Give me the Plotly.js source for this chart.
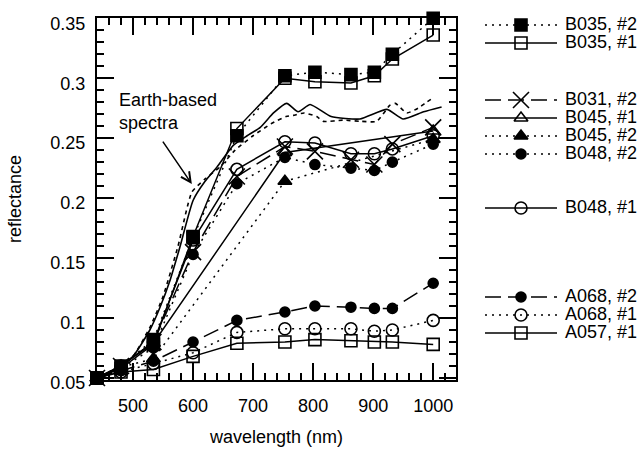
<!DOCTYPE html>
<html>
<head>
<meta charset="utf-8">
<script src="https://cdn.plot.ly/plotly-3.0.1.min.js"></script>
<style>
  html, body { margin: 0; padding: 0; background: #ffffff; }
  #chart { width: 644px; height: 451px; }
</style>
</head>
<body>
<div id="chart"></div>
<script>
// Filter wavelengths (nm) and reflectance per rock spectrum
const wavelength = [440, 480, 534, 600, 673, 753, 803, 863, 902, 932, 1000];
const wavelengthB045 = [440, 480, 534, 753, 1000];

const b035_2 = [0.050, 0.060, 0.082, 0.167, 0.252, 0.302, 0.305, 0.303, 0.305, 0.320, 0.350];
const b035_1 = [0.050, 0.058, 0.078, 0.168, 0.258, 0.300, 0.297, 0.296, 0.302, 0.316, 0.336];
const b031_2 = [0.050, 0.060, 0.080, 0.155, 0.218, 0.243, 0.239, 0.232, 0.228, 0.245, 0.259];
const b045_1 = [0.050, 0.060, 0.079, 0.238, 0.256];
const b045_2 = [0.050, 0.059, 0.066, 0.214, 0.249];
const b048_2 = [0.050, 0.058, 0.075, 0.153, 0.212, 0.234, 0.228, 0.225, 0.223, 0.230, 0.245];
const b048_1 = [0.050, 0.060, 0.080, 0.165, 0.224, 0.247, 0.246, 0.237, 0.237, 0.241, 0.252];
const a068_2 = [0.050, 0.056, 0.064, 0.080, 0.098, 0.105, 0.110, 0.109, 0.108, 0.108, 0.129];
const a068_1 = [0.050, 0.055, 0.062, 0.071, 0.088, 0.091, 0.091, 0.091, 0.089, 0.090, 0.098];
const a057_1 = [0.050, 0.055, 0.057, 0.068, 0.079, 0.080, 0.082, 0.081, 0.080, 0.080, 0.078];

// Telescopic (Earth-based) spectra
const earthSolidWl = [445, 470, 500, 528, 545, 562, 578, 600, 620, 640, 667, 690, 712, 734, 756, 775, 795, 830, 878, 923, 950, 984, 1014];
const earthSolidR  = [0.050, 0.057, 0.068, 0.090, 0.109, 0.132, 0.159, 0.198, 0.214, 0.226, 0.244, 0.252, 0.259, 0.271, 0.279, 0.272, 0.278, 0.268, 0.266, 0.274, 0.266, 0.272, 0.276];
const earthDashWl = [445, 470, 500, 528, 550, 575, 598, 620, 645, 670, 700, 730, 755, 767, 785, 806, 817, 850, 880, 906, 928, 937, 956, 975, 989, 998];
const earthDashR  = [0.050, 0.056, 0.068, 0.092, 0.118, 0.160, 0.205, 0.216, 0.226, 0.240, 0.252, 0.262, 0.268, 0.269, 0.271, 0.268, 0.264, 0.265, 0.264, 0.264, 0.2775, 0.279, 0.271, 0.275, 0.280, 0.283];

const seriesNames = ['B035, #2', 'B035, #1', 'B031, #2', 'B045, #1', 'B045, #2', 'B048, #2', 'B048, #1', 'A068, #2', 'A068, #1', 'A057, #1'];

const FONT = '"Liberation Sans", Arial, Helvetica, sans-serif';
const DOT = '2px,5px';
const DASH = '16px,7px';

// Style of each spectrum
const series = [
  { name: seriesNames[1], x: wavelength,     y: b035_1, symbol: 'square-open',      size: 12, dash: 'solid' },
  { name: seriesNames[0], x: wavelength,     y: b035_2, symbol: 'square',           size: 12, dash: DOT },
  { name: seriesNames[2], x: wavelength,     y: b031_2, symbol: 'x-thin-open',      size: 16, dash: DASH },
  { name: seriesNames[3], x: wavelengthB045, y: b045_1, symbol: 'triangle-up-open', size: 12, dash: 'solid' },
  { name: seriesNames[4], x: wavelengthB045, y: b045_2, symbol: 'triangle-up',      size: 12, dash: DOT },
  { name: seriesNames[5], x: wavelength,     y: b048_2, symbol: 'circle',           size: 10, dash: DOT },
  { name: seriesNames[6], x: wavelength,     y: b048_1, symbol: 'circle-open',      size: 12, dash: 'solid' },
  { name: seriesNames[7], x: wavelength,     y: a068_2, symbol: 'circle',           size: 10, dash: DASH },
  { name: seriesNames[8], x: wavelength,     y: a068_1, symbol: 'circle-open',      size: 12, dash: DOT },
  { name: seriesNames[9], x: wavelength,     y: a057_1, symbol: 'square-open',      size: 12, dash: 'solid' }
];

const traces = [];

traces.push({
  type: 'scatter', mode: 'lines', x: earthSolidWl, y: earthSolidR,
  line: { color: 'black', width: 1.6, shape: 'spline', smoothing: 0.5 },
  showlegend: false, hoverinfo: 'skip', xaxis: 'x', yaxis: 'y'
});
traces.push({
  type: 'scatter', mode: 'lines', x: earthDashWl, y: earthDashR,
  line: { color: 'black', width: 1.6, dash: '4px,4px', shape: 'spline', smoothing: 0.5 },
  showlegend: false, hoverinfo: 'skip', xaxis: 'x', yaxis: 'y'
});

series.forEach(s => {
  traces.push({
    type: 'scatter', mode: 'lines+markers', name: s.name, x: s.x, y: s.y,
    line: { color: 'black', width: 1.5, dash: s.dash },
    marker: { symbol: s.symbol, size: s.size, color: 'black', line: { color: 'black', width: 1.6 } },
    cliponaxis: false, showlegend: false, xaxis: 'x', yaxis: 'y'
  });
});

// Key drawn beside the plot on its own pixel-scaled axes
const keyOrder = [0, 1, 2, 3, 4, 5, 6, 7, 8, 9];
const keyRows = [25, 43, 100, 118, 136, 154, 208, 297, 315, 333];
const keyLineX = [485, 521, 557];
const keyTextX = 565;
const byName = {};
series.forEach(s => { byName[s.name] = s; });

keyOrder.forEach((idx, i) => {
  const s = byName[seriesNames[idx]];
  const r = keyRows[i];
  traces.push({
    type: 'scatter', mode: 'lines+markers', x: keyLineX, y: [r, r, r],
    line: { color: 'black', width: 1.5, dash: s.dash },
    marker: { symbol: s.symbol, size: s.size, color: 'black', opacity: [0, 1, 0],
              line: { color: 'black', width: 1.6 } },
    cliponaxis: false, showlegend: false, hoverinfo: 'skip', xaxis: 'x2', yaxis: 'y2'
  });
});
traces.push({
  type: 'scatter', mode: 'text',
  x: keyRows.map(() => keyTextX), y: keyRows,
  text: keyOrder.map(i => seriesNames[i]),
  textposition: 'middle right',
  textfont: { family: FONT, size: 18, color: 'black' },
  cliponaxis: false, showlegend: false, hoverinfo: 'skip', xaxis: 'x2', yaxis: 'y2'
});

const ML = 97, MR = 0, MT = 18, MB = 71, W = 644, H = 451;
const plotRight = 456;
const paperW = W - ML - MR;
const xDomainEnd = (plotRight - ML) / paperW;

const axisCommon = {
  showline: true, linewidth: 2, linecolor: 'black', mirror: 'ticks',
  ticks: 'inside', ticklen: 17, tickwidth: 1.5, tickcolor: 'black',
  showgrid: false, zeroline: false,
  tickfont: { family: FONT, size: 18, color: 'black' }
};

const layout = {
  width: W, height: H,
  margin: { l: ML, r: MR, t: MT, b: MB, pad: 0 },
  paper_bgcolor: 'white', plot_bgcolor: 'white',
  font: { family: FONT, size: 18, color: 'black' },
  showlegend: false,
  xaxis: Object.assign({}, axisCommon, {
    domain: [0, xDomainEnd], range: [440, 1038],
    tick0: 0, dtick: 100, ticklabelstandoff: 8,
    minor: { dtick: 20, tick0: 0, ticks: 'inside', ticklen: 7, tickwidth: 1.5, tickcolor: 'black', showgrid: false },
    title: { text: 'wavelength (nm)', font: { family: FONT, size: 18, color: 'black' }, standoff: 16 },
    anchor: 'y'
  }),
  yaxis: Object.assign({}, axisCommon, {
    domain: [0, 1], range: [0.0483, 0.3502],
    tick0: 0, dtick: 0.05, ticklabelstandoff: 6, ticklabelshift: 5,
    minor: { dtick: 0.01, tick0: 0, ticks: 'inside', ticklen: 7, tickwidth: 1.5, tickcolor: 'black', showgrid: false },
    title: { text: 'reflectance', font: { family: FONT, size: 18, color: 'black' }, standoff: 24 },
    anchor: 'x'
  }),
  xaxis2: { domain: [xDomainEnd, 1], range: [plotRight, W], visible: false, anchor: 'y2', fixedrange: true },
  yaxis2: { domain: [0, 1], range: [H - MB, MT], visible: false, anchor: 'x2', fixedrange: true },
  annotations: [
    {
      xref: 'x', yref: 'y', x: 473, y: 0.2725,
      text: 'Earth-based<br>spectra', showarrow: false,
      xanchor: 'left', yanchor: 'middle', align: 'left',
      font: { family: FONT, size: 18, color: 'black' }
    },
    {
      xref: 'x', yref: 'y', x: 598, y: 0.2117,
      text: '', showarrow: true, axref: 'pixel', ayref: 'pixel', ax: -30, ay: -44,
      arrowhead: 5, arrowsize: 1.3, arrowwidth: 1.5, arrowcolor: 'black', standoff: 0
    }
  ]
};

Plotly.newPlot('chart', traces, layout, { staticPlot: true, displayModeBar: false });
</script>
</body>
</html>
